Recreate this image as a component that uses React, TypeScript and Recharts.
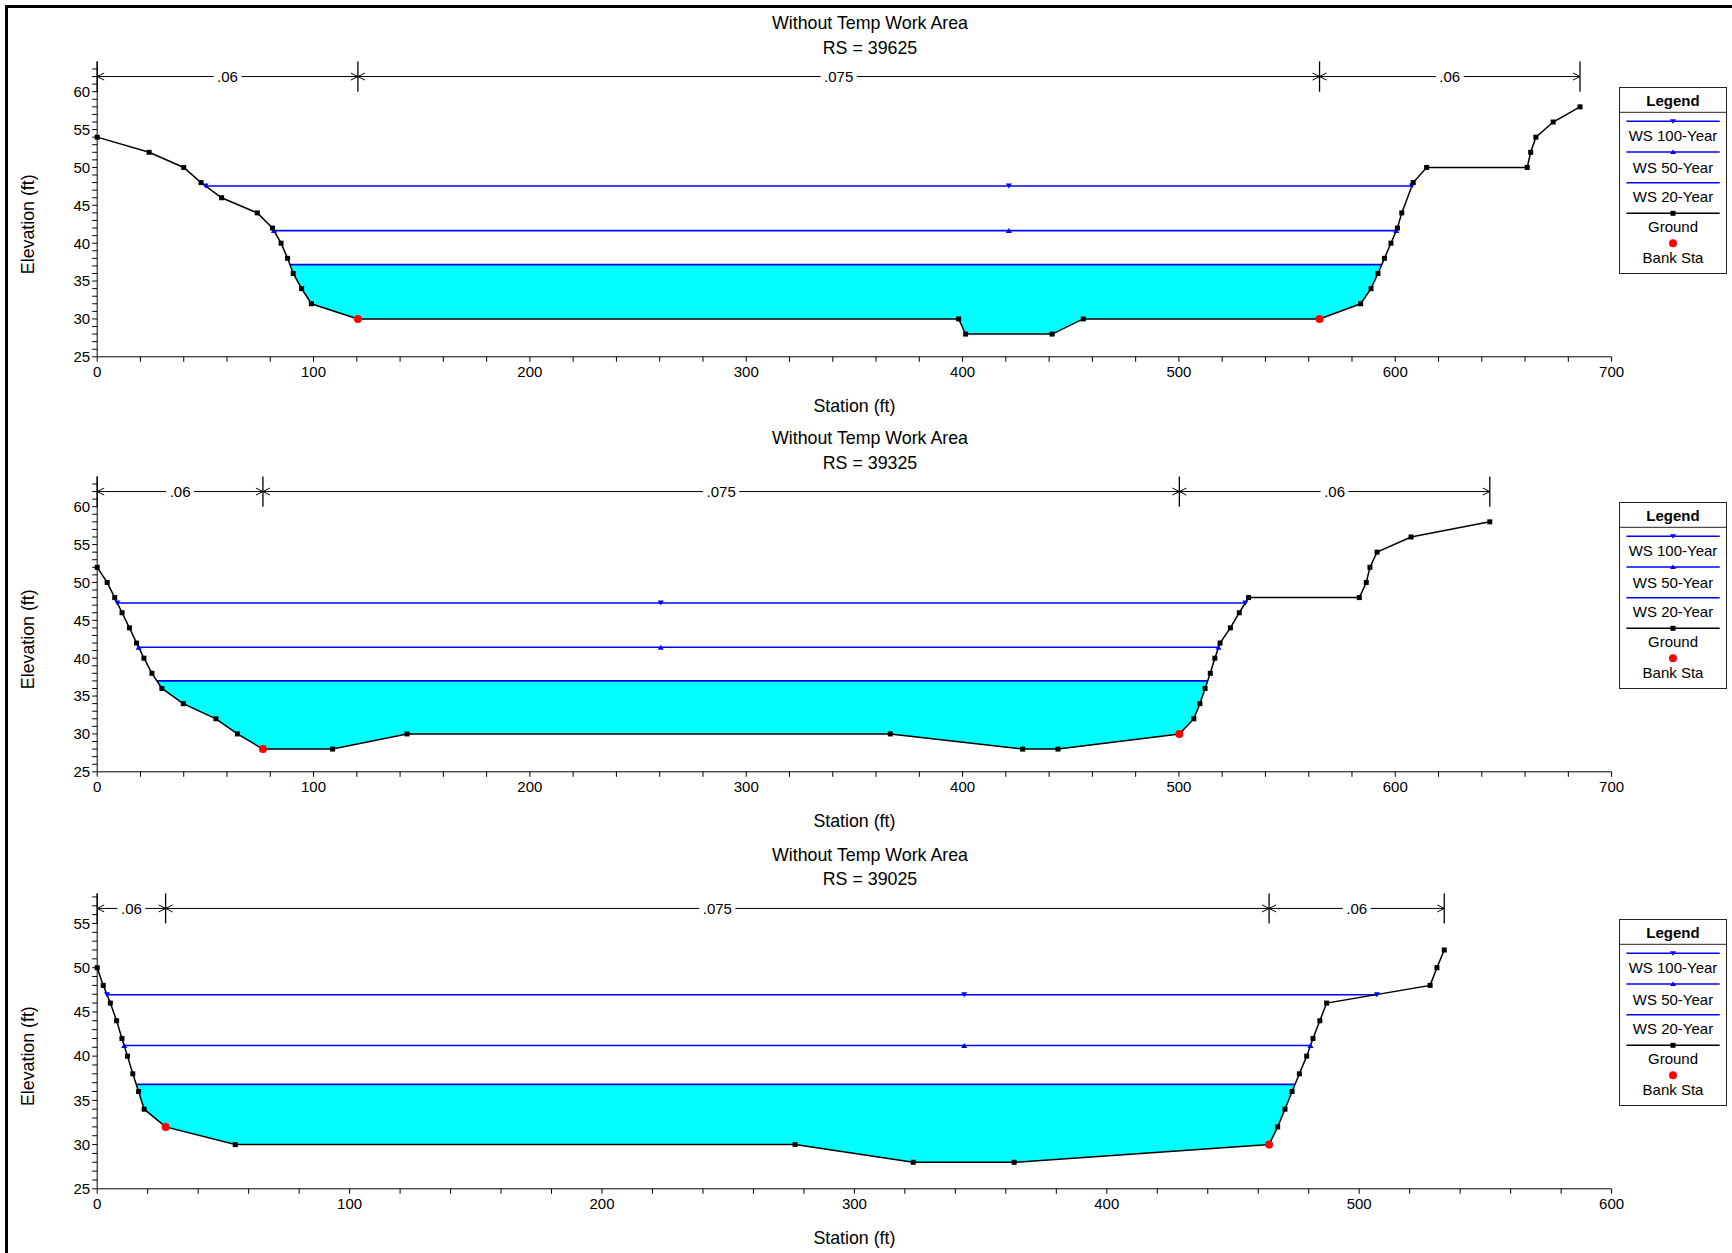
import React from 'react';
import { ComposedChart, Line, Area, Scatter, XAxis, YAxis } from 'recharts';

const FONT = '"Liberation Sans", Arial, Helvetica, sans-serif';
const CHART_W = 1732;
const CHART_H = 416;

const titleText = 'Without Temp Work Area';
const riverStations = ['39625', '39325', '39025'];
const legendLabels = ['WS 100-Year', 'WS 50-Year', 'WS 20-Year', 'Ground', 'Bank Sta'];

// ---------- RS 39625 ----------
const stations39625 = [0, 24, 40, 48, 57.5, 74, 81, 85, 88, 90.6, 94.5, 99, 120.5, 398.2, 401.4, 441.4, 455.8, 565, 584, 588.8, 592, 595, 598, 601, 603, 608.3, 614.5, 661, 662.6, 665, 673, 685.4];
const elevations39625 = [54, 52, 50, 48, 46, 44, 42, 40, 38, 36, 34, 32, 30, 30, 28, 28, 30, 30, 32, 34, 36, 38, 40, 42, 44, 48, 50, 50, 52, 54, 56, 58];
const bankSta39625 = [120.5, 565];
const bankElev39625 = [30, 30];
const wsElev39625 = [47.55, 41.66, 37.18];
const wsLeft39625 = [50.1, 81.7, 89.1];
const wsRight39625 = [607.7, 600.5, 593.8];
const wsMarker39625 = 421.4;
const nBounds39625 = [0, 120.5, 565, 685.4];
const nValues39625 = ['.06', '.075', '.06'];

// ---------- RS 39325 ----------
const stations39325 = [0, 4.6, 8.1, 11.5, 14.9, 18.2, 21.6, 25.3, 29.9, 39.8, 54.9, 64.8, 76.6, 108.8, 143.2, 366.6, 427.8, 444.1, 500.2, 506.9, 509.7, 512.1, 514.5, 516.6, 519, 523.8, 527.9, 532.2, 583.4, 586.6, 588.3, 591.6, 607.3, 643.7];
const elevations39325 = [52, 50, 48, 46, 44, 42, 40, 38, 36, 34, 32, 30, 28, 28, 30, 30, 28, 28, 30, 32, 34, 36, 38, 40, 42, 44, 46, 48, 48, 50, 52, 54, 56, 58];
const bankSta39325 = [76.6, 500.2];
const bankElev39325 = [28, 30];
const wsElev39325 = [47.29, 41.44, 37.0];
const wsLeft39325 = [9.3, 19.15, 27.6];
const wsRight39325 = [530.7, 518.3, 513.3];
const wsMarker39325 = 260.5;
const nBounds39325 = [0, 76.6, 500.2, 643.7];
const nValues39325 = ['.06', '.075', '.06'];

// ---------- RS 39025 ----------
const stations39025 = [0, 2.4, 5.2, 7.7, 9.8, 12, 14.1, 16.4, 18.6, 27.1, 54.7, 276.5, 323.3, 363.3, 464.3, 467.7, 470.6, 473.4, 476.3, 479.2, 481.7, 484.4, 487.1, 528.1, 530.8, 533.7];
const elevations39025 = [50, 48, 46, 44, 42, 40, 38, 36, 34, 32, 30, 30, 28, 28, 30, 32, 34, 36, 38, 40, 42, 44, 46, 48, 50, 52];
const bankSta39025 = [27.1, 464.3];
const bankElev39025 = [32, 30];
const wsElev39025 = [46.94, 41.2, 36.8];
const wsLeft39025 = [3.9, 10.7, 15.5];
const wsRight39025 = [507, 480.7, 474.6];
const wsMarker39025 = 343.5;
const nBounds39025 = [0, 27.1, 464.3, 533.7];
const nValues39025 = ['.06', '.075', '.06'];

// axis label ticks
const xMajor700 = [0, 100, 200, 300, 400, 500, 600, 700];
const xMajor600 = [0, 100, 200, 300, 400, 500, 600];
const yMajor60 = [25, 30, 35, 40, 45, 50, 55, 60];
const yMajor55 = [25, 30, 35, 40, 45, 50, 55];

type PanelDef = {
  rs: string;
  stations: number[];
  elevations: number[];
  bankSta: number[];
  bankElev: number[];
  wsElev: number[];
  wsLeft: number[];
  wsRight: number[];
  wsMarker: number;
  nBounds: number[];
  nValues: string[];
  xMajor: number[];
  yMajor: number[];
  yMax: number;
  nY: number;
  nTickLow: number;
  nTickHigh: number;
  top: number;
};

const panels: PanelDef[] = [
  {
    rs: riverStations[0], stations: stations39625, elevations: elevations39625,
    bankSta: bankSta39625, bankElev: bankElev39625, wsElev: wsElev39625,
    wsLeft: wsLeft39625, wsRight: wsRight39625, wsMarker: wsMarker39625,
    nBounds: nBounds39625, nValues: nValues39625, xMajor: xMajor700, yMajor: yMajor60,
    yMax: 64, nY: 62, nTickLow: 60, nTickHigh: 64, top: 0,
  },
  {
    rs: riverStations[1], stations: stations39325, elevations: elevations39325,
    bankSta: bankSta39325, bankElev: bankElev39325, wsElev: wsElev39325,
    wsLeft: wsLeft39325, wsRight: wsRight39325, wsMarker: wsMarker39325,
    nBounds: nBounds39325, nValues: nValues39325, xMajor: xMajor700, yMajor: yMajor60,
    yMax: 64, nY: 62, nTickLow: 60, nTickHigh: 64, top: 415.3,
  },
  {
    rs: riverStations[2], stations: stations39025, elevations: elevations39025,
    bankSta: bankSta39025, bankElev: bankElev39025, wsElev: wsElev39025,
    wsLeft: wsLeft39025, wsRight: wsRight39025, wsMarker: wsMarker39025,
    nBounds: nBounds39025, nValues: nValues39025, xMajor: xMajor600, yMajor: yMajor55,
    yMax: 58.4, nY: 56.7, nTickLow: 55.0, nTickHigh: 58.4, top: 831.8,
  },
];

const BLUE = '#0000FF';
const CYAN = '#00FFFF';

const squareDot = (props: any) => {
  const { cx, cy, index } = props;
  return <rect key={`sq-${index}`} x={cx - 2.5} y={cy - 2.5} width={5} height={5} fill="#000" />;
};

const makeTriDot = (down: boolean) => (props: any) => {
  const { cx, cy, index } = props;
  const d = down
    ? `M${cx - 3},${cy - 2.5} L${cx + 3},${cy - 2.5} L${cx},${cy + 2.5} Z`
    : `M${cx - 3},${cy + 2.5} L${cx + 3},${cy + 2.5} L${cx},${cy - 2.5} Z`;
  return <path key={`tri-${index}`} d={d} fill={BLUE} />;
};

const arrowDot = (props: any) => {
  const { cx, cy, index } = props;
  const dir = index === 0 ? -1 : 1;
  const ax = cx - dir * 7;
  return (
    <polyline
      key={`ar-${index}`}
      points={`${ax},${cy - 3.5} ${cx},${cy} ${ax},${cy + 3.5}`}
      fill="none"
      stroke="#000"
      strokeWidth={1}
    />
  );
};

const bankShape = (props: any) => <circle cx={props.cx} cy={props.cy} r={4} fill="#FF0000" />;

const nLabelShape = (props: any) => {
  const { cx, cy, payload } = props;
  const label: string = payload.label;
  const w = (label.length - 1) * 0.556 * 15 + 0.278 * 15 + 7;
  return (
    <g>
      <rect x={cx - w / 2} y={cy - 8} width={w} height={16} fill="#fff" />
      <text x={cx} y={cy} textAnchor="middle" dominantBaseline="central" fontSize={15} fontFamily={FONT} fill="#000">
        {label}
      </text>
    </g>
  );
};

function LegendBox() {
  const W = 108;
  const H = 187;
  const x1 = 7.4;
  const x2 = 100.7;
  const cx = 54;
  const lineYs = [34.3, 65, 95.7, 126.3];
  const textYs = [48.7, 80.3, 109.7, 139.7, 170.3];
  return (
    <svg width={W} height={H} style={{ position: 'absolute', left: 1619, top: 87 }}>
      <rect x={0.5} y={0.5} width={W - 1} height={H - 1} fill="#fff" stroke="#222" />
      <text x={cx} y={13} textAnchor="middle" dominantBaseline="central" fontWeight="bold" fontSize={15} fontFamily={FONT} fill="#000">
        Legend
      </text>
      <line x1={0} x2={W} y1={25.3} y2={25.3} stroke="#222" />
      <line x1={x1} x2={x2} y1={lineYs[0]} y2={lineYs[0]} stroke={BLUE} strokeWidth={1.5} />
      <path d={`M${cx - 3},${lineYs[0] - 2} L${cx + 3},${lineYs[0] - 2} L${cx},${lineYs[0] + 2.5} Z`} fill={BLUE} />
      <line x1={x1} x2={x2} y1={lineYs[1]} y2={lineYs[1]} stroke={BLUE} strokeWidth={1.5} />
      <path d={`M${cx - 3},${lineYs[1] + 2} L${cx + 3},${lineYs[1] + 2} L${cx},${lineYs[1] - 2.5} Z`} fill={BLUE} />
      <line x1={x1} x2={x2} y1={lineYs[2]} y2={lineYs[2]} stroke={BLUE} strokeWidth={1.5} />
      <line x1={x1} x2={x2} y1={lineYs[3]} y2={lineYs[3]} stroke="#000" strokeWidth={1.5} />
      <rect x={cx - 2.5} y={lineYs[3] - 2.5} width={5} height={5} fill="#000" />
      <circle cx={cx} cy={156.3} r={4} fill="#FF0000" />
      {legendLabels.map((l, i) => (
        <text key={l} x={cx} y={textYs[i]} textAnchor="middle" dominantBaseline="central" fontSize={15} fontFamily={FONT} fill="#000">
          {l}
        </text>
      ))}
    </svg>
  );
}

function Panel({ p }: { p: PanelDef }) {
  const xMax = p.xMajor[p.xMajor.length - 1];
  const xTicks = Array.from({ length: xMax / 20 + 1 }, (_, i) => i * 20);
  const yTicks = Array.from({ length: Math.ceil(p.yMax) - 25 }, (_, i) => 25 + i);
  const yMid = (p.yMajor[0] + p.yMajor[p.yMajor.length - 1]) / 2;

  const ground = p.stations.map((x, i) => ({ x, y: p.elevations[i] }));
  const banks = p.bankSta.map((x, i) => ({ x, y: p.bankElev[i] }));
  const ws100 = [
    { x: p.wsLeft[0], y: p.wsElev[0] },
    { x: p.wsMarker, y: p.wsElev[0] },
    { x: p.wsRight[0], y: p.wsElev[0] },
  ];
  const ws50 = [
    { x: p.wsLeft[1], y: p.wsElev[1] },
    { x: p.wsMarker, y: p.wsElev[1] },
    { x: p.wsRight[1], y: p.wsElev[1] },
  ];
  const e20 = p.wsElev[2];
  const ws20 = [
    { x: p.wsLeft[2], y: e20 },
    { x: p.wsRight[2], y: e20 },
  ];
  const fill = [
    { x: p.wsLeft[2], range: [e20, e20] },
    ...ground
      .filter((g) => g.x > p.wsLeft[2] && g.x < p.wsRight[2])
      .map((g) => ({ x: g.x, range: [g.y, e20] })),
    { x: p.wsRight[2], range: [e20, e20] },
  ];
  const nSegs = p.nValues.map((v, i) => ({ a: p.nBounds[i], b: p.nBounds[i + 1], v }));
  const nLabels = nSegs.map((s) => ({ x: (s.a + s.b) / 2, y: p.nY, label: s.v }));

  const xLabel = (props: any) => {
    const vb = props.viewBox;
    return (
      <text x={vb.x + vb.width / 2} y={vb.y + 48.7} textAnchor="middle" dominantBaseline="central" fontSize={17.8} fontFamily={FONT} fill="#000">
        Station (ft)
      </text>
    );
  };
  const yLabel = (props: any) => {
    const vb = props.viewBox;
    const cy = vb.y + (vb.height * (p.yMax - yMid)) / (p.yMax - 25);
    const cx = 28;
    return (
      <text x={cx} y={cy} transform={`rotate(-90 ${cx} ${cy})`} textAnchor="middle" dominantBaseline="central" fontSize={17.8} fontFamily={FONT} fill="#000">
        Elevation (ft)
      </text>
    );
  };

  return (
    <div style={{ position: 'absolute', left: 0, top: p.top, width: CHART_W, height: CHART_H }}>
      <ComposedChart width={CHART_W} height={CHART_H} margin={{ top: 61.4, right: 120.4, bottom: 19.2, left: 0 }}>
        <XAxis
          type="number"
          dataKey="x"
          domain={[0, xMax]}
          ticks={xTicks}
          interval={0}
          tickFormatter={(v: number) => (p.xMajor.includes(v) ? String(v) : '')}
          height={40}
          stroke="#000"
          tickSize={5}
          tickMargin={5}
          tick={{ fill: '#000', fontSize: 15, fontFamily: FONT }}
          label={{ content: xLabel }}
        />
        <YAxis
          type="number"
          dataKey="y"
          domain={[25, p.yMax]}
          ticks={yTicks}
          interval={0}
          tickFormatter={(v: number) => (p.yMajor.includes(v) ? String(v) : '')}
          width={97.2}
          stroke="#000"
          tickSize={5}
          tickMargin={2}
          tick={{ fill: '#000', fontSize: 15, fontFamily: FONT }}
          label={{ content: yLabel }}
        />
        <Area data={fill} dataKey="range" type="linear" stroke="none" fill={CYAN} fillOpacity={1} isAnimationActive={false} />
        <Line data={ws100} dataKey="y" type="linear" stroke={BLUE} strokeWidth={1.6} dot={makeTriDot(true)} activeDot={false} isAnimationActive={false} />
        <Line data={ws50} dataKey="y" type="linear" stroke={BLUE} strokeWidth={1.6} dot={makeTriDot(false)} activeDot={false} isAnimationActive={false} />
        <Line data={ws20} dataKey="y" type="linear" stroke="#0000E0" strokeWidth={1.8} dot={false} activeDot={false} isAnimationActive={false} />
        <Line data={ground} dataKey="y" type="linear" stroke="#000" strokeWidth={1.5} dot={squareDot} activeDot={false} isAnimationActive={false} />
        {nSegs.map((s, i) => (
          <Line
            key={`nseg-${i}`}
            data={[{ x: s.a, y: p.nY }, { x: s.b, y: p.nY }]}
            dataKey="y"
            type="linear"
            stroke="#000"
            strokeWidth={1}
            dot={arrowDot}
            activeDot={false}
            isAnimationActive={false}
          />
        ))}
        {p.nBounds.map((b, i) => (
          <Line
            key={`ntick-${i}`}
            data={[{ x: b, y: p.nTickLow }, { x: b, y: p.nTickHigh }]}
            dataKey="y"
            type="linear"
            stroke="#000"
            strokeWidth={1.3}
            dot={false}
            activeDot={false}
            isAnimationActive={false}
          />
        ))}
        <Scatter data={banks} dataKey="y" shape={bankShape} isAnimationActive={false} />
        <Scatter data={nLabels} dataKey="y" shape={nLabelShape} isAnimationActive={false} />
      </ComposedChart>
      <div
        style={{
          position: 'absolute', left: 570, top: 11, width: 600, textAlign: 'center',
          fontSize: 17.8, lineHeight: '24.5px', fontFamily: FONT, color: '#000',
        }}
      >
        <div>{titleText}</div>
        <div>RS = {p.rs}</div>
      </div>
      <LegendBox />
    </div>
  );
}

export default function App() {
  return (
    <div style={{ position: 'absolute', left: 0, top: 0, width: 1732, height: 1253, background: '#fff', overflow: 'hidden', fontFamily: FONT }}>
      <div style={{ position: 'absolute', left: 5, top: 5, width: 1727, height: 2.5, background: '#000' }} />
      <div style={{ position: 'absolute', left: 5, top: 5, width: 2.5, height: 1248, background: '#000' }} />
      {panels.map((p) => (
        <Panel key={p.rs} p={p} />
      ))}
    </div>
  );
}
